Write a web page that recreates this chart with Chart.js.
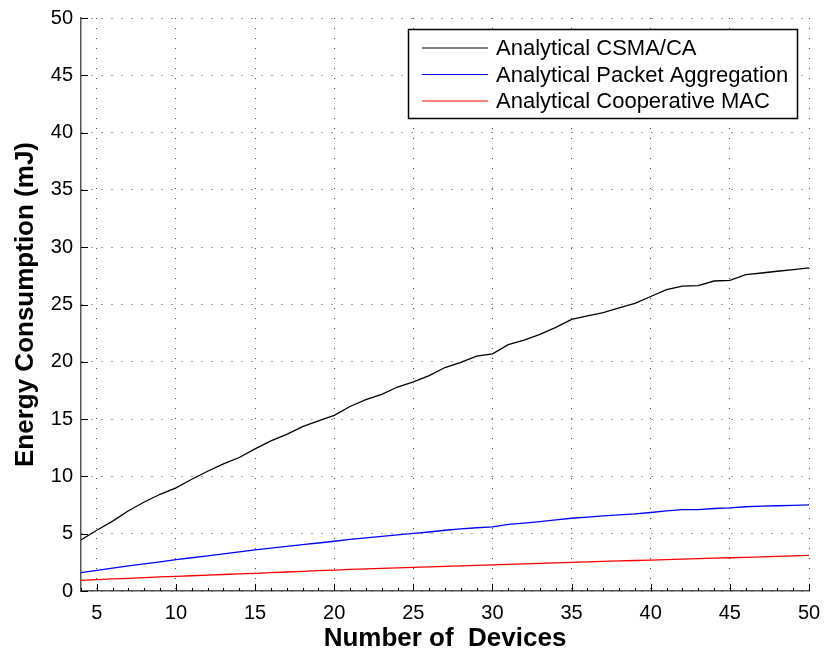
<!DOCTYPE html>
<html>
<head>
<meta charset="utf-8">
<script src="https://cdn.jsdelivr.net/npm/chart.js@4.4.1/dist/chart.umd.min.js"></script>
<style>
  html, body { margin: 0; padding: 0; background: #fff; }
  #wrap { width: 825px; height: 654px; position: relative; }
</style>
</head>
<body>
<div id="wrap"><canvas id="energyChart"></canvas></div>
<script>
// 데이터
const devices = [4, 5, 6, 7, 8, 9, 10, 11, 12, 13, 14, 15, 16, 17, 18, 19, 20, 21, 22, 23, 24, 25, 26, 27,
    28, 29, 30, 31, 32, 33, 34, 35, 36, 37, 38, 39, 40, 41, 42, 43, 44, 45, 46, 47, 48, 49, 50];
const csmaCa = [4.45, 5.3, 6.1, 7.0, 7.77, 8.44, 9.0, 9.75, 10.45, 11.1, 11.65, 12.4, 13.1, 13.67, 14.35, 14.84,
    15.33, 16.1, 16.7, 17.16, 17.8, 18.24, 18.8, 19.5, 19.95, 20.5, 20.7, 21.5, 21.9, 22.4, 23.0, 23.7, 24.0,
    24.3, 24.7, 25.1, 25.7, 26.3, 26.6, 26.65, 27.05, 27.1, 27.6, 27.75, 27.9, 28.05, 28.2];
const packetAggregation = [1.6, 1.8, 2.0, 2.2, 2.37, 2.55, 2.74, 2.9, 3.07, 3.24, 3.41, 3.58, 3.74, 3.89, 4.04,
    4.19, 4.34, 4.5, 4.63, 4.76, 4.9, 5.03, 5.15, 5.3, 5.42, 5.52, 5.6, 5.82, 5.93, 6.05, 6.2, 6.35, 6.45, 6.55,
    6.65, 6.73, 6.85, 7.0, 7.1, 7.1, 7.2, 7.25, 7.35, 7.4, 7.44, 7.48, 7.52];
const cooperativeMac = [0.93, 0.99, 1.05, 1.11, 1.17, 1.23, 1.28, 1.33, 1.39, 1.44, 1.49, 1.54, 1.6, 1.66, 1.72,
    1.78, 1.83, 1.88, 1.93, 1.97, 2.02, 2.07, 2.11, 2.15, 2.2, 2.24, 2.28, 2.33, 2.37, 2.41, 2.46, 2.5, 2.54,
    2.58, 2.62, 2.66, 2.7, 2.74, 2.78, 2.82, 2.86, 2.9, 2.94, 2.98, 3.02, 3.06, 3.1];
const seriesLabels = ['Analytical CSMA/CA', 'Analytical Packet Aggregation', 'Analytical Cooperative MAC'];
const xTicks = [5, 10, 15, 20, 25, 30, 35, 40, 45, 50];
const yTicks = [0, 5, 10, 15, 20, 25, 30, 35, 40, 45, 50];

const FONT = "'Liberation Sans', Arial, Helvetica, sans-serif";

function toPoints(values) {
    return devices.map((d, i) => ({ x: d, y: values[i] }));
}

// 안쪽으로 향하는 눈금 + 테두리 범례
const matlabLook = {
    id: 'matlabLook',
    afterDatasetsDraw(chart) {
        const { ctx, chartArea: a, scales } = chart;
        ctx.save();
        ctx.strokeStyle = '#000';
        ctx.lineWidth = 1;
        ctx.beginPath();
        // x 보조 눈금
        for (let v = 4; v <= 50; v++) {
            const px = Math.round(scales.x.getPixelForValue(v)) + 0.5;
            const len = xTicks.includes(v) ? 7 : 3;
            ctx.moveTo(px, a.bottom);
            ctx.lineTo(px, a.bottom - len);
        }
        yTicks.forEach(v => {
            const py = Math.round(scales.y.getPixelForValue(v)) + 0.5;
            ctx.moveTo(a.left, py);
            ctx.lineTo(a.left + 7, py);
        });
        ctx.stroke();

        // 범례
        const bx = 408.5, by = 29.5, bw = 389, bh = 89;
        ctx.fillStyle = '#fff';
        ctx.fillRect(bx, by, bw, bh);
        ctx.lineWidth = 1.5;
        ctx.strokeRect(bx, by, bw, bh);
        ctx.font = '22px ' + FONT;
        ctx.textBaseline = 'middle';
        chart.data.datasets.forEach((ds, i) => {
            const ry = 48 + i * 26.5;
            ctx.strokeStyle = ds.borderColor;
            ctx.lineWidth = 1.2;
            ctx.beginPath();
            ctx.moveTo(422, ry);
            ctx.lineTo(488, ry);
            ctx.stroke();
            ctx.fillStyle = '#000';
            ctx.fillText(ds.label, 496, ry + 1);
        });
        ctx.restore();
    }
};

new Chart(document.getElementById('energyChart'), {
    type: 'line',
    data: {
        datasets: [
            { label: seriesLabels[0], data: toPoints(csmaCa), borderColor: '#000000' },
            { label: seriesLabels[1], data: toPoints(packetAggregation), borderColor: '#0000ff' },
            { label: seriesLabels[2], data: toPoints(cooperativeMac), borderColor: '#ff0000' }
        ]
    },
    options: {
        responsive: true,
        maintainAspectRatio: false,
        animation: false,
        elements: {
            line: { borderWidth: 1.3, tension: 0 },
            point: { radius: 0 }
        },
        layout: { padding: { left: 0, top: 18, right: 16, bottom: 0 } },
        plugins: {
            legend: { display: false },
            tooltip: { enabled: false }
        },
        scales: {
            x: {
                type: 'linear',
                min: 4,
                max: 50,
                afterBuildTicks: s => { s.ticks = xTicks.map(v => ({ value: v })); },
                afterFit: s => { s.height = 63; s.paddingLeft = 0; s.paddingRight = 0; },
                grid: { color: '#444', drawTicks: false },
                border: { color: '#555', width: 1.5, dash: [1, 9] },
                ticks: { color: '#000', font: { family: FONT, size: 20 }, padding: 10, maxRotation: 0 },
                title: {
                    display: true,
                    text: 'Number of  Devices',
                    color: '#000',
                    font: { family: FONT, size: 26, weight: 'bold' },
                    padding: { top: 0, bottom: 0 }
                }
            },
            y: {
                min: 0,
                max: 50,
                afterBuildTicks: s => { s.ticks = yTicks.map(v => ({ value: v })); },
                afterFit: s => { s.width = 81; s.paddingTop = 0; s.paddingBottom = 0; },
                grid: { color: '#444', drawTicks: false },
                border: { color: '#555', width: 1.5, dash: [1, 9] },
                ticks: { color: '#000', font: { family: FONT, size: 20 }, padding: 8 },
                title: {
                    display: true,
                    text: 'Energy Consumption (mJ)',
                    color: '#000',
                    font: { family: FONT, size: 26, weight: 'bold' },
                    padding: { top: 10, bottom: 0 }
                }
            }
        }
    },
    plugins: [matlabLook]
});
</script>
</body>
</html>
